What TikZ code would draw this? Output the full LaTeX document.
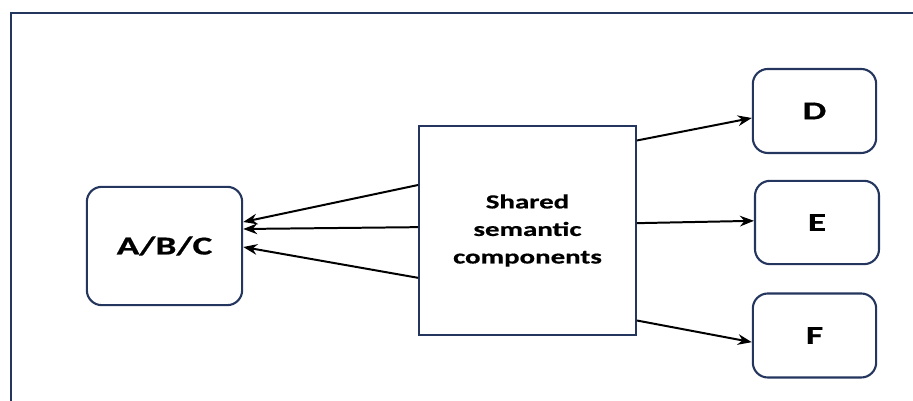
\documentclass[tikz,border=0pt]{standalone}
\usepackage{fontspec}
\setmainfont{Carlito}[FakeStretch=1.45,BoldFeatures={FakeBold=0.7}]
\usetikzlibrary{arrows.meta}
\definecolor{navy}{RGB}{36,54,94}
\begin{document}
\begin{tikzpicture}[x=0.03cm,y=0.03cm,
  leaf/.style={draw=navy,line width=1.8pt,rounded corners=0.45cm,font=\bfseries\fontsize{22}{26}\selectfont},
  core/.style={draw=navy,line width=1.8pt,align=center,font=\bfseries\fontsize{17}{23.5}\selectfont},
  feed/.style={-{Stealth[length=0.42cm,width=0.32cm]},line width=1.7pt}]
\useasboundingbox (0,0) rectangle (913,401);
% outer frame, open to the right and bottom
\draw[navy,line width=2.4pt] (11,0) -- (11,388) -- (913,388);
\node[leaf,minimum width=4.66cm,minimum height=3.55cm] (abc) at (164.5,155) {A/B/C};
\node[core,minimum width=6.5cm,minimum height=6.27cm] (sem) at (527.5,170.5) {Shared\\semantic\\components};
\node[leaf,minimum width=3.7cm,minimum height=2.52cm] (d) at (814.5,290) {D};
\node[leaf,minimum width=3.72cm,minimum height=2.5cm] (e) at (817,178.5) {E};
\node[leaf,minimum width=3.7cm,minimum height=2.52cm] (f) at (814.5,65.5) {F};
% shared part feeds back to A/B/C
\draw[feed] ([yshift=1.365cm]sem.west) -- ([yshift=0.72cm]abc.east);
\draw[feed] ([yshift=0.1cm]sem.west) -- ([yshift=0.51cm]abc.east);
\draw[feed] ([yshift=-1.42cm]sem.west) -- ([yshift=-0.03cm]abc.east);
% and out to D, E, F
\draw[feed] ([yshift=2.7cm]sem.east) -- ([yshift=-0.21cm]d.west);
\draw[feed] ([yshift=0.22cm]sem.east) -- ([yshift=0.05cm]e.west);
\draw[feed] ([yshift=-2.7cm]sem.east) -- ([yshift=-0.2cm]f.west);
\end{tikzpicture}
\end{document}
